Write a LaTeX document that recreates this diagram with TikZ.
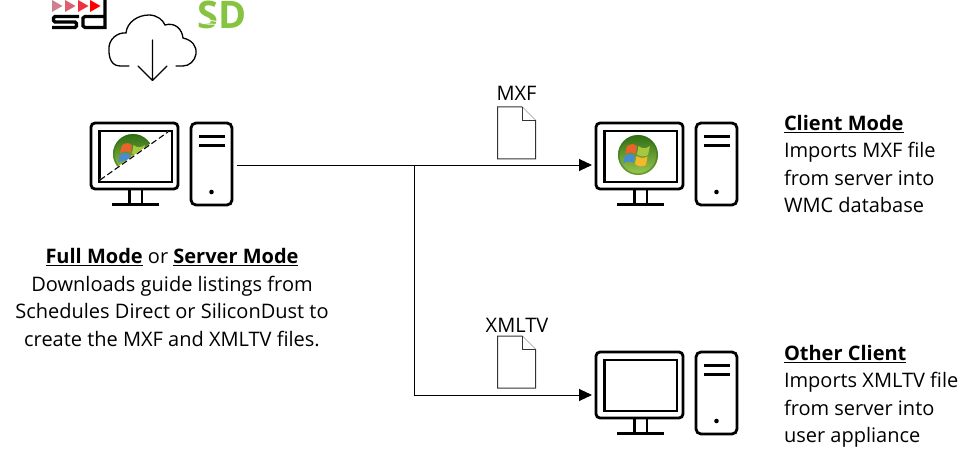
\documentclass[tikz,border=0pt]{standalone}
\usepackage{fontspec}
\setmainfont{Open Sans}
\usetikzlibrary{arrows.meta}
\definecolor{orbtop}{HTML}{2F6E14}
\definecolor{orbbot}{HTML}{9CC850}
\definecolor{sdgreen}{HTML}{86C440}
\definecolor{paneR}{HTML}{E8642A}
\definecolor{paneG}{HTML}{A6C840}
\definecolor{paneB}{HTML}{4A8CCC}
\definecolor{paneY}{HTML}{F4B82C}
\definecolor{triA}{HTML}{CC8090}
\definecolor{triB}{HTML}{DD6070}
\definecolor{triC}{HTML}{EE3040}
\definecolor{triD}{HTML}{FF0000}
\tikzset{
  x=1pt,y=-1pt,
  every node/.style={inner sep=0pt,outer sep=0pt,text=black},
  body/.style={font=\fontsize{20}{27.6}\selectfont,align=left,anchor=north west},
  bodyc/.style={font=\fontsize{20}{27.9}\selectfont,align=center,anchor=north},
  doclabel/.style={font=\fontsize{20}{24}\selectfont,anchor=center},
  hw/.style={draw=black,line width=2.8pt,fill=white},
  hwline/.style={draw=black,line width=2.8pt},
  doc/.style={draw=black!80,line width=1pt,fill=white,line join=miter},
  link/.style={draw=black,line width=0.9pt},
  arrowlink/.style={link,-{Triangle[length=13pt,width=12pt]}},
}
\newcommand{\computer}[2]{%
 \begin{scope}[shift={(#1,#2)}]
  \draw[hw,rounded corners=4pt] (0,0) rectangle (87,66);
  \draw[hw] (8.5,8) rectangle (81,59);
  \draw[hwline] (38.5,67) -- (38.5,81) (51,67) -- (51,81) (21,81.5) -- (68,81.5);
  \draw[hw,rounded corners=5pt] (100,0) rectangle (141,82);
  \draw[hwline] (108,13.5) -- (133.5,13.5) (108,22.5) -- (133.5,22.5);
  \fill[black] (120.5,69) circle (2.3pt);
 \end{scope}}
\newcommand{\orb}[2]{%
 \begin{scope}[shift={(#1,#2)}]
  \shade[top color=orbtop,bottom color=orbbot] (0,0) circle (20);
  \draw[orbtop,opacity=0.45,line width=1.6pt] (0,0) circle (19.2);
  \fill[paneR] (-11,-9) .. controls (-6,-12) and (-3,-11) .. (-1,-9) -- (-2.5,-1) .. controls (-5,-3) and (-8,-3) .. (-13,-1) -- cycle;
  \fill[paneG] (0.5,-9) .. controls (4,-6) and (8,-6) .. (12,-9) -- (10,0) .. controls (6,2) and (3,2) .. (-1,-0.5) -- cycle;
  \fill[paneB] (-13,0.5) .. controls (-8,-1.5) and (-5,-1.5) .. (-3,0.5) -- (-4.5,8) .. controls (-7,6) and (-11,6) .. (-15,8.5) -- cycle;
  \fill[paneY] (-1.5,1) .. controls (3,3.5) and (6,3.5) .. (9.5,1.5) -- (8,10) .. controls (5,12) and (0,12) .. (-3,9) -- cycle;
 \end{scope}}
\begin{document}
\begin{tikzpicture}
\useasboundingbox (0,0) rectangle (980,449);
\fill[white] (0,0) rectangle (980,449);

% sd logo
\foreach \xx/\cc in {52/triA,65/triB,78/triC,90/triD}{
  \fill[\cc] (\xx,0) -- (\xx+10.5,6) -- (\xx,12) -- cycle;}
\begin{scope}[line width=3.2pt,draw=black]
  \draw (79,16.5) -- (55,16.5) -- (53.5,18) -- (53.5,20.5) -- (55,22) -- (75,22) -- (76.5,23.5) -- (76.5,26) -- (75,27.5) -- (52,27.5);
  \draw (105,16.5) -- (85,16.5) -- (83,18) -- (83,26) -- (85,27.5) -- (105,27.5) -- (105,0);
\end{scope}

% SD logo
\node[anchor=center,font=\fontsize{38}{38}\selectfont\bfseries,text=sdgreen] (sdlogo) at (222,15) {SD};
\draw[white,line width=0.9pt] (197,15) .. controls (205,22) and (212,20) .. (220,22);
\draw[white,line width=0.9pt] (197,21) .. controls (205,26) and (212,23) .. (220,25);

% cloud
\draw[black,line width=1.3pt,line cap=round]
  (129,66) -- (120,66) .. controls (108,66) and (109,50) .. (109,50)
  .. controls (108,39) and (118,32) .. (126,33)
  .. controls (127,22) and (138,15) .. (149,15)
  .. controls (157,15) and (163,20) .. (165,25)
  .. controls (175,22) and (182,29) .. (183,38)
  .. controls (192,40) and (197,46) .. (196,54)
  .. controls (195,61) and (189,66) .. (183,66) -- (176,66);
\draw[black,line width=1.3pt,line cap=round,line join=round]
  (152.5,40) -- (152.5,80) (138,66) -- (152.5,80.5) -- (167,66);

% computers
\computer{91}{123}
\computer{596}{123}
\computer{596}{352}
\coordinate (serverport) at (237,165);
\coordinate (clientport) at (592,165);
\coordinate (otherport) at (592,395);
\coordinate (branch) at (414,165);

% orbs
\begin{scope}
  \clip (100,180) -- (168,132) -- (100,132) -- cycle;
  \orb{133}{154}
\end{scope}
\draw[white,line width=1.4pt] (100,180) -- (168,132);
\draw[black,line width=1.1pt,dash pattern=on 6pt off 3pt] (100,180) -- (168,132);
\orb{638}{155}

% connectors
\draw[link] (serverport) -- (branch);
\draw[arrowlink] (branch) -- (clientport);
\draw[arrowlink] (branch) |- (otherport);

% documents
\draw[doc] (497.5,107) -- (522,107) -- (535.5,120.5) -- (535.5,159) -- (497.5,159) -- cycle;
\draw[doc] (522,107) -- (522,120.5) -- (535.5,120.5);
\draw[doc] (497.5,336) -- (522,336) -- (535.5,349.5) -- (535.5,388) -- (497.5,388) -- cycle;
\draw[doc] (522,336) -- (522,349.5) -- (535.5,349.5);
\node[doclabel] (mxf) at (516.5,93.5) {MXF};
\node[doclabel] (xmltv) at (517,325.5) {XMLTV};

% texts
\node[bodyc] (server) at (172,248) {\textbf{\underline{Full Mode}} or \textbf{\underline{Server Mode}}\\Downloads guide listings from\\Schedules Direct or SiliconDust to\\create the MXF and XMLTV files.};
\node[body] (client) at (784,115) {\textbf{\underline{Client Mode}}\\Imports MXF file\\from server into\\WMC database};
\node[body] (other) at (784,345) {\textbf{\underline{Other Client}}\\Imports XMLTV file\\from server into\\user appliance};
\end{tikzpicture}
\end{document}
